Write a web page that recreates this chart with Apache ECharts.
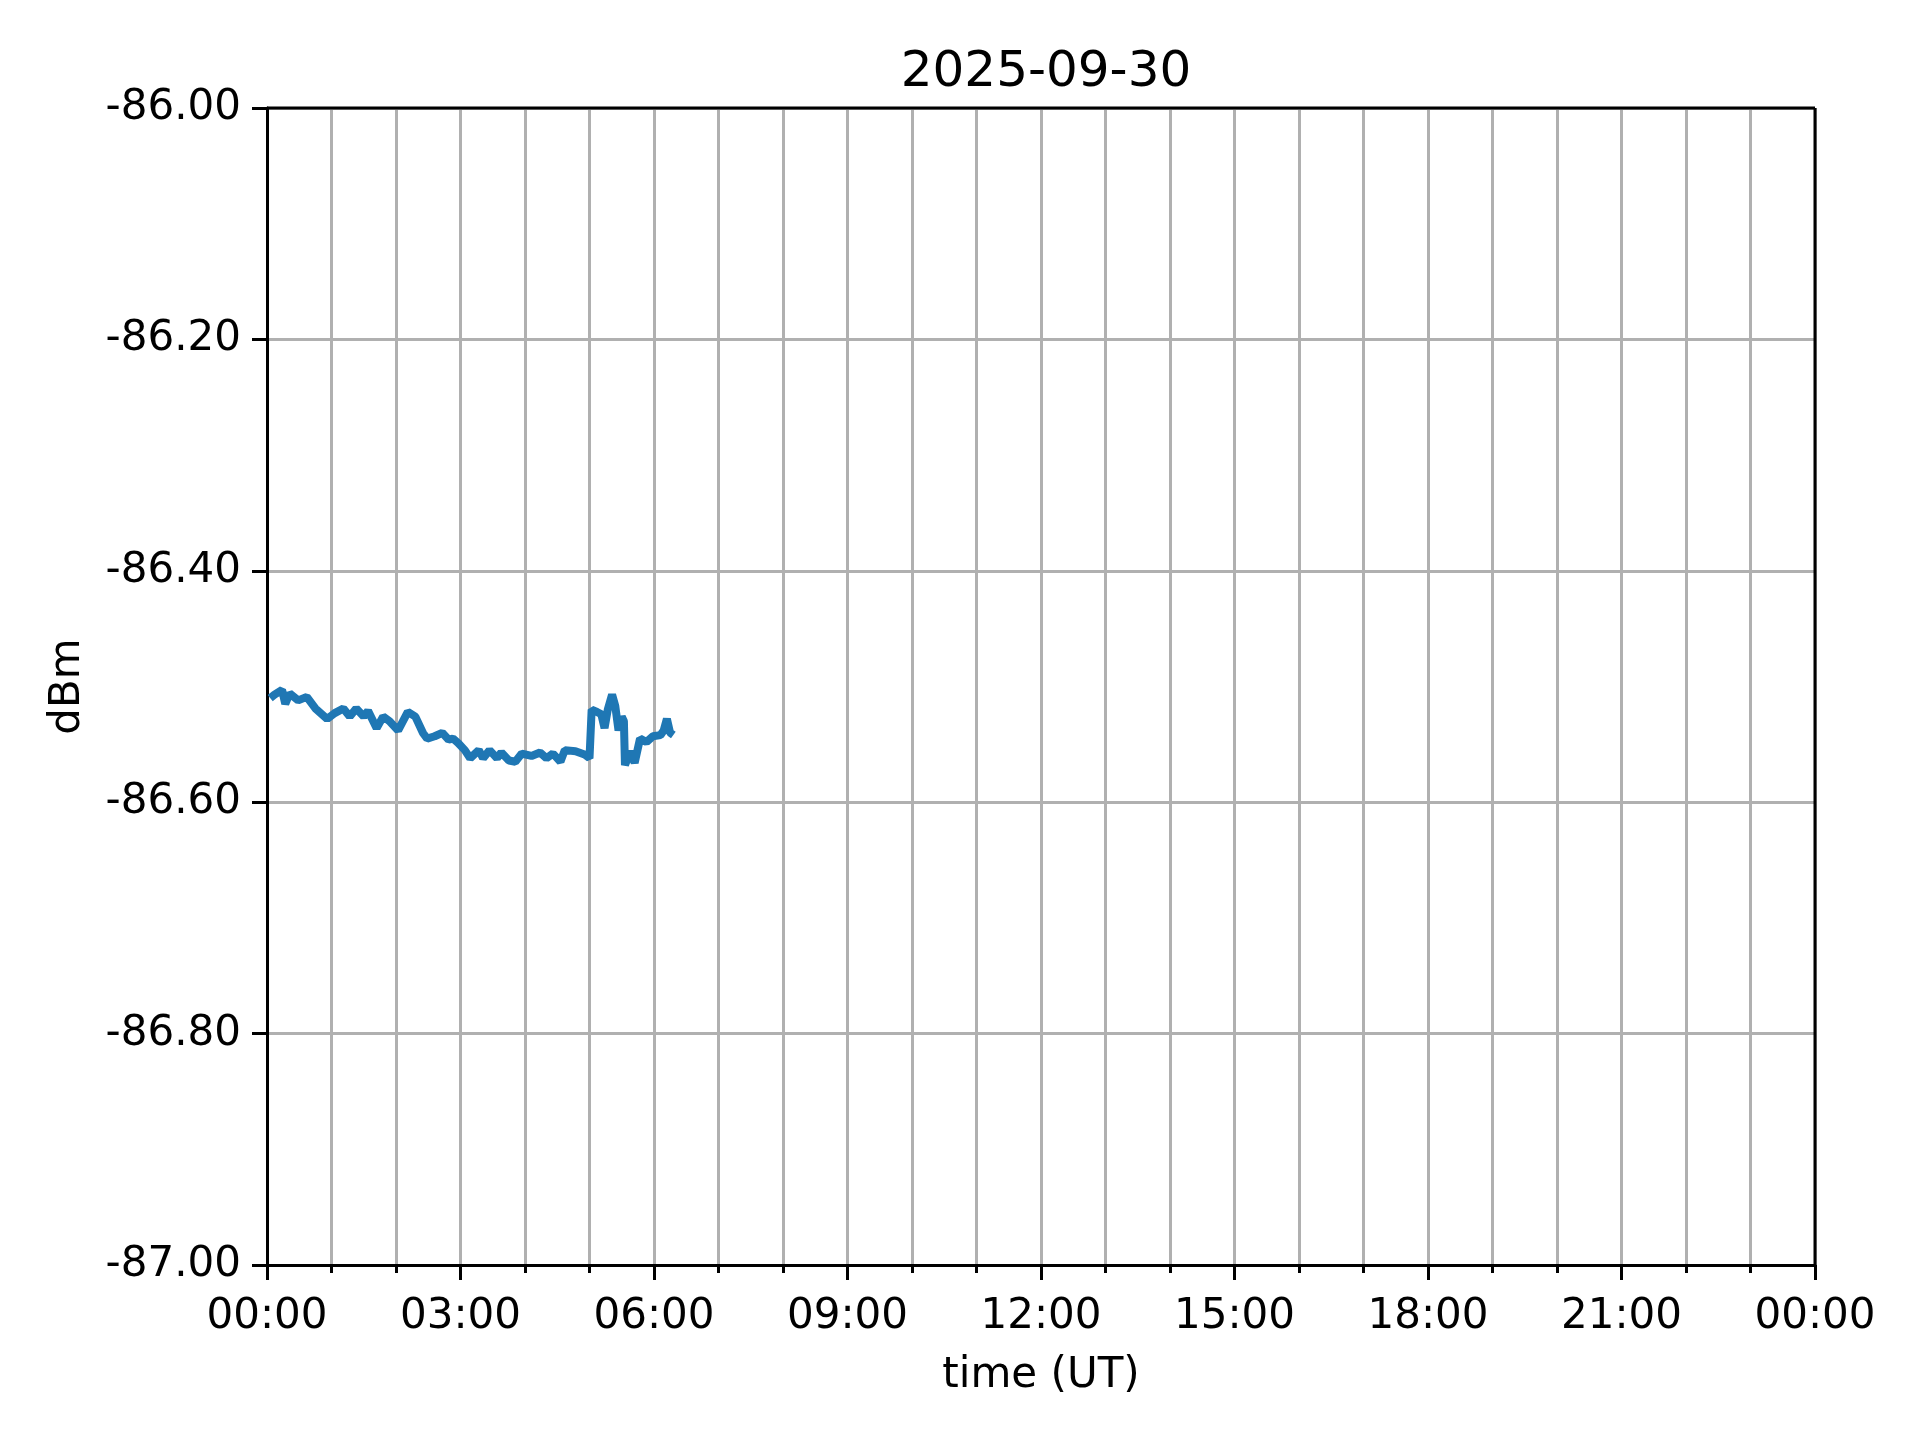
<!DOCTYPE html>
<html>
<head>
<meta charset="utf-8">
<script src="https://cdn.jsdelivr.net/npm/echarts@6/dist/echarts.min.js"></script>
<style>
    html, body { margin: 0; padding: 0; background: #fff; }
    #chart { width: 1920px; height: 1440px; }
</style>
</head>
<body>
<div id="chart"></div>
<script>
// minutes after 00:00 UT
var minutes = [3, 7, 14, 17, 21, 29, 37, 45, 56, 63, 71, 77, 83, 90, 94,
    102, 108, 114, 122, 131, 138, 145, 149, 156, 163, 169, 173, 178, 184,
    189, 197, 201, 207, 214, 218, 225, 231, 237, 246, 254, 260, 266, 273, 277,
    287, 296, 300, 302, 307, 311, 314, 317, 321, 324, 327, 330, 332, 333,
    338, 342, 347, 353, 359, 366, 369, 372, 375, 378];
var dbm = [-86.510, -86.507, -86.503, -86.515, -86.506, -86.512, -86.509, -86.519, -86.528, -86.523, -86.519, -86.526, -86.519, -86.526, -86.521,
    -86.536, -86.526, -86.530, -86.538, -86.522, -86.526, -86.540, -86.545, -86.543, -86.540, -86.546, -86.545, -86.549, -86.555,
    -86.562, -86.555, -86.562, -86.555, -86.562, -86.557, -86.564, -86.565, -86.558, -86.560, -86.557, -86.562, -86.558, -86.565, -86.555,
    -86.556, -86.559, -86.562, -86.520, -86.522, -86.524, -86.536, -86.520, -86.507, -86.517, -86.538, -86.526, -86.530, -86.568,
    -86.556, -86.566, -86.545, -86.548, -86.543, -86.542, -86.538, -86.528, -86.540, -86.542];
var xTickLabels = ['00:00', '03:00', '06:00', '09:00', '12:00', '15:00', '18:00', '21:00', '00:00'];

var points = [];
minutes.forEach(function (m, i) {
    points.push([m, dbm[i]]);
});

var font = 'DejaVu Sans';
var gridColor = '#b0b0b0';

var myChart = echarts.init(document.getElementById('chart'));
var option = {
    animation: false,
    backgroundColor: '#ffffff',
    title: {
        text: '2025-09-30',
        left: 1041,
        textAlign: 'center',
        top: 43,
        textStyle: { fontFamily: font, fontSize: 50, fontWeight: 'normal', color: '#000' }
    },
    grid: { left: 267, right: 105, top: 108, bottom: 175 },
    xAxis: {
        type: 'value',
        min: 0,
        max: 1440,
        interval: 180,
        name: 'time (UT)',
        nameLocation: 'middle',
        nameGap: 90,
        nameTextStyle: { fontFamily: font, fontSize: 42, color: '#000' },
        axisLine: { show: true, onZero: false, lineStyle: { color: '#000', width: 3 } },
        axisTick: { show: true, length: 15, lineStyle: { color: '#000', width: 3 } },
        minorTick: { show: true, splitNumber: 3, length: 8, lineStyle: { color: '#000', width: 3 } },
        axisLabel: {
            margin: 31,
            fontFamily: font,
            fontSize: 42,
            color: '#000',
            formatter: function (v) { return xTickLabels[Math.round(v / 180)]; }
        },
        splitLine: { show: true, lineStyle: { color: gridColor, width: 3 } },
        minorSplitLine: { show: true, lineStyle: { color: gridColor, width: 3 } }
    },
    yAxis: {
        type: 'value',
        min: -87,
        max: -86,
        interval: 0.2,
        name: 'dBm',
        nameLocation: 'middle',
        nameGap: 178,
        nameRotate: 90,
        nameTextStyle: { fontFamily: font, fontSize: 42, color: '#000' },
        axisLine: { show: true, onZero: false, lineStyle: { color: '#000', width: 3 } },
        axisTick: { show: true, length: 15, lineStyle: { color: '#000', width: 3 } },
        axisLabel: {
            margin: 26,
            fontFamily: font,
            fontSize: 42,
            color: '#000',
            formatter: function (v) { return v.toFixed(2); }
        },
        splitLine: { show: true, lineStyle: { color: gridColor, width: 3 } }
    },
    series: [
        {
            type: 'line',
            data: points,
            showSymbol: false,
            lineStyle: { color: '#1f77b4', width: 8 },
            itemStyle: { color: '#1f77b4' }
        }
    ]
};
myChart.setOption(option);

// frame lines on top and right, like the reference
myChart.setOption({
    graphic: [
        { type: 'line', shape: { x1: 267, y1: 108, x2: 1815, y2: 108 }, style: { stroke: '#000', lineWidth: 3 }, z: 100 },
        { type: 'line', shape: { x1: 1815, y1: 108, x2: 1815, y2: 1265 }, style: { stroke: '#000', lineWidth: 3 }, z: 100 }
    ]
});
</script>
</body>
</html>
